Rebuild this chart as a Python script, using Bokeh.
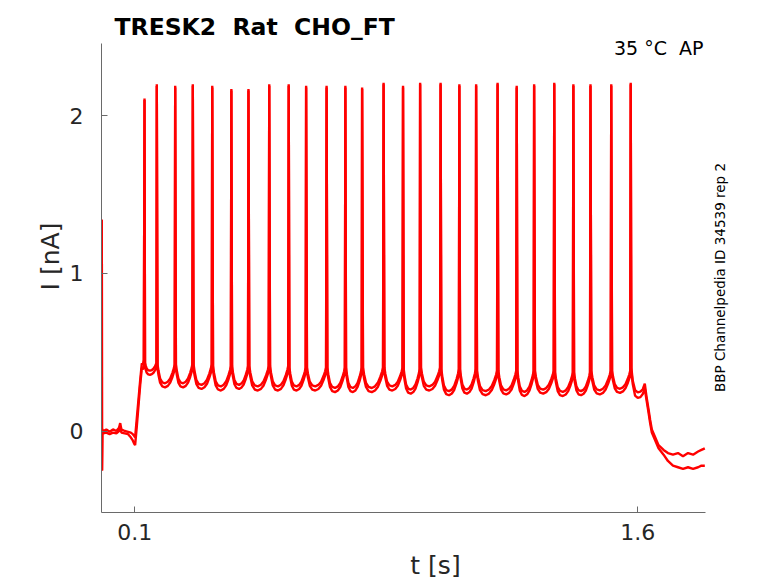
import math
from bokeh.plotting import figure
from bokeh.models import Range1d, Label, FixedTicker
from bokeh.embed import file_html
from bokeh.resources import INLINE

# ---------------- data ----------------
# spike times [s] and peak currents [nA]
spike_t = [0.129, 0.1656, 0.2205, 0.273, 0.331, 0.388, 0.439, 0.501, 0.559,
           0.611, 0.672, 0.728, 0.778, 0.842, 0.900, 0.951, 1.012, 1.068,
           1.118, 1.182, 1.239, 1.291, 1.351, 1.408, 1.459, 1.521, 1.579]
spike_peak = [2.11, 2.20, 2.19, 2.20, 2.19, 2.17, 2.17, 2.20, 2.20, 2.19,
              2.19, 2.19, 2.18, 2.21, 2.19, 2.21, 2.21, 2.20, 2.20, 2.21,
              2.19, 2.20, 2.21, 2.20, 2.20, 2.20, 2.21]
# minimum current between consecutive spikes and value just before the next spike [nA]
isi_trough = [0.37, 0.29, 0.29, 0.28, 0.27, 0.28, 0.27, 0.27, 0.27, 0.27,
              0.26, 0.26, 0.26, 0.27, 0.25, 0.27, 0.24, 0.25, 0.24, 0.245,
              0.235, 0.25, 0.235, 0.24, 0.245, 0.255]
isi_pre = [0.42, 0.41, 0.41, 0.41, 0.40, 0.40, 0.40, 0.40, 0.39, 0.39,
           0.39, 0.39, 0.39, 0.39, 0.38, 0.39, 0.38, 0.38, 0.37, 0.37,
           0.37, 0.37, 0.36, 0.36, 0.37, 0.37]
# shape of the current between two spikes (fraction of interval, relative level)
isi_shape_frac = [0.04, 0.09, 0.18, 0.30, 0.45, 0.60, 0.73, 0.85, 0.93, 0.975]
isi_shape_level = [1.0, 0.67, 0.25, 0.05, 0.0, 0.08, 0.25, 0.55, 0.8, 1.0]
# spread of the two sweeps around the mean [nA]
sweep_offset = [0.013, -0.013]

# before the first spike (holding, capacitive transient, onset of stimulus)
head_t = [0.0010, 0.0016, 0.0022, 0.0032, 0.006, 0.015, 0.025, 0.035, 0.045,
          0.053, 0.0565, 0.060, 0.070, 0.080, 0.088, 0.094, 0.098, 0.101,
          0.106, 0.111, 0.116, 0.121, 0.124, 0.127]
head_a = [0.0, 1.34, -0.25, 0.01, 0.0, 0.01, -0.005, 0.01, 0.0, 0.02, 0.05,
          0.01, 0.0, -0.005, -0.01, -0.02, -0.03, -0.04, 0.08, 0.20, 0.32,
          0.43, 0.42, 0.45]
head_b = [0.0, 1.34, -0.25, -0.01, -0.015, -0.01, -0.02, -0.01, -0.015, 0.0,
          0.03, -0.01, -0.015, -0.02, -0.04, -0.06, -0.08, -0.09, 0.03, 0.16,
          0.29, 0.40, 0.39, 0.42]

# after the last spike (end of stimulus, return below zero)
tail_t = [1.581, 1.585, 1.592, 1.600, 1.608, 1.615, 1.621, 1.626, 1.632,
          1.637, 1.642, 1.650, 1.662, 1.677, 1.690, 1.705, 1.720, 1.735,
          1.750, 1.765, 1.780, 1.790, 1.800]
tail_a = [0.40, 0.32, 0.26, 0.245, 0.25, 0.265, 0.30, 0.22, 0.14, 0.07, 0.01,
          -0.03, -0.09, -0.12, -0.14, -0.15, -0.14, -0.16, -0.14, -0.15,
          -0.13, -0.12, -0.11]
tail_b = [0.38, 0.30, 0.225, 0.21, 0.215, 0.235, 0.27, 0.20, 0.12, 0.05,
          -0.01, -0.05, -0.11, -0.15, -0.19, -0.22, -0.23, -0.24, -0.23,
          -0.24, -0.23, -0.22, -0.22]

x_ticks = [0.1, 1.6]
x_tick_labels = {0.1: "0.1", 1.6: "1.6"}
y_ticks = [0, 1, 2]
x_axis_extent = (0.0007, 1.801)   # where the drawn axes end
y_axis_extent = (-0.517, 2.457)

title_text = "TRESK2  Rat  CHO_FT"
cond_text = "35 °C  AP"
id_text = "BBP Channelpedia ID 34539 rep 2"


def keep_spaces(s):
    # SVG collapses runs of spaces; keep the double spaces visible
    return s.replace("  ", "\u00a0 ")


def build_sweep(head_vals, tail_vals, off, peak_drop):
    ts = list(head_t)
    vs = list(head_vals)
    n = len(spike_t)
    for k in range(n):
        ts.append(spike_t[k])
        vs.append(spike_peak[k] - peak_drop)
        if k < n - 1:
            t0, t1 = spike_t[k], spike_t[k + 1]
            lo, hi = isi_trough[k] + off, isi_pre[k] + off
            for f, lev in zip(isi_shape_frac, isi_shape_level):
                ts.append(t0 + f * (t1 - t0))
                vs.append(lo + (hi - lo) * lev)
    ts += tail_t
    vs += tail_vals
    return ts, vs


FONT = "DejaVu Sans"
TXT = "#262626"
FRAME_W, FRAME_H = 668, 512
PX_PER_S, PX_PER_NA = 335.3, 157.6

x0 = x_axis_extent[0]
y0 = y_axis_extent[0]
p = figure(frame_width=FRAME_W, frame_height=FRAME_H,
           min_border_left=101, min_border_right=1,
           min_border_top=0, min_border_bottom=67,
           x_range=Range1d(x0, x0 + FRAME_W / PX_PER_S),
           y_range=Range1d(y0, y0 + FRAME_H / PX_PER_NA),
           output_backend="svg", toolbar_location=None,
           background_fill_color="white", border_fill_color="white")
p.outline_line_color = None
p.grid.visible = False

for heads, tails, off, drop in [(head_a, tail_a, sweep_offset[0], 0.0),
                                (head_b, tail_b, sweep_offset[1], 0.01)]:
    xs, ys = build_sweep(heads, tails, off, drop)
    p.line(xs, ys, line_color="#ff0000", line_width=2.4)

for ax in (p.xaxis[0], p.yaxis[0]):
    ax.axis_line_color = "#6a6a6a"
    ax.major_tick_line_color = "#6a6a6a"
    ax.major_tick_in = 6
    ax.major_tick_out = 0
    ax.minor_tick_line_color = None
    ax.major_label_text_font = FONT
    ax.major_label_text_font_size = "22px"
    ax.major_label_text_color = TXT
    ax.axis_label_text_font = FONT
    ax.axis_label_text_font_size = "25px"
    ax.axis_label_text_font_style = "normal"
    ax.axis_label_text_color = TXT

p.xaxis.ticker = FixedTicker(ticks=x_ticks)
p.xaxis.major_label_overrides = x_tick_labels
p.yaxis.ticker = FixedTicker(ticks=y_ticks)
p.xaxis.bounds = x_axis_extent
p.yaxis.bounds = y_axis_extent
p.xaxis.axis_label = "t [s]"
p.yaxis.axis_label = "I [nA]"
p.xaxis.major_label_standoff = 11
p.xaxis.axis_label_standoff = 8
p.yaxis.major_label_standoff = 18
p.yaxis.axis_label_standoff = 2

p.add_layout(Label(x=13, y=485.3, x_units="screen", y_units="screen",
                   text=keep_spaces(title_text), text_font=FONT,
                   text_font_size="23.5px", text_font_style="bold",
                   text_color="black", text_baseline="alphabetic",
                   text_align="left"))
p.add_layout(Label(x=602, y=464.7, x_units="screen", y_units="screen",
                   text=keep_spaces(cond_text), text_font=FONT,
                   text_font_size="19px", text_color="black",
                   text_baseline="alphabetic", text_align="right"))
p.add_layout(Label(x=618, y=235, x_units="screen", y_units="screen",
                   text=id_text, text_font=FONT, text_font_size="13.5px",
                   text_color="black", angle=math.pi / 2,
                   text_baseline="middle", text_align="center"))

open("out.html", "w").write(file_html(p, INLINE))
